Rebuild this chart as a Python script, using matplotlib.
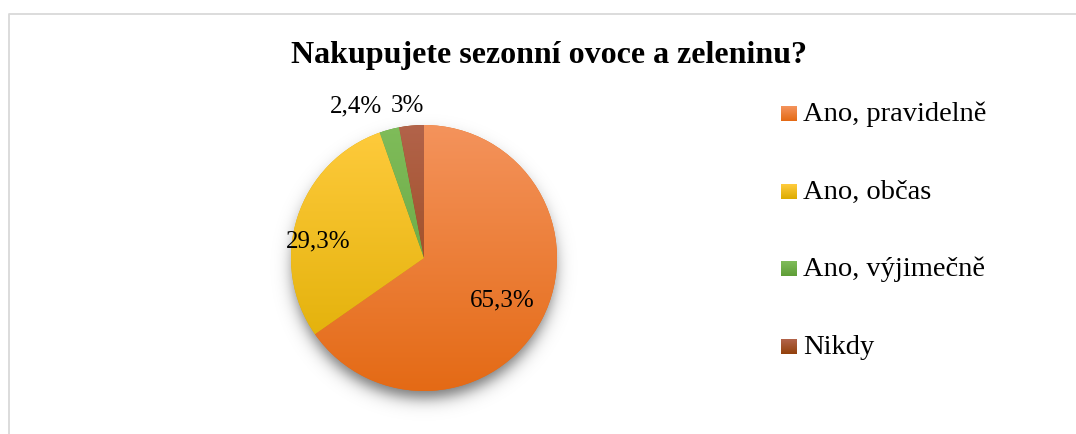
import matplotlib.pyplot as plt
import numpy as np
from matplotlib.colors import LinearSegmentedColormap

# Data
labels = ['Ano, pravidelně', 'Ano, občas', 'Ano, výjimečně', 'Nikdy']
values = [65.3, 29.3, 2.4, 3.0]
value_text = ['65,3%', '29,3%', '2,4%', '3%']
top_colors = ['#F4935C', '#FFCB3D', '#7FBC5A', '#B2634A']
bottom_colors = ['#E46A15', '#DDAC00', '#5F9E37', '#93410C']

plt.rcParams['font.family'] = ['Liberation Serif', 'DejaVu Serif']

W, H = 1076, 434
fig = plt.figure(figsize=(W / 100, H / 100), dpi=100)

# pie axes (center 424,258 radius 133 in pixels)
cx, cy, r = 424, 258, 133
ax = fig.add_axes([(cx - r) / W, (H - cy - r) / H, 2 * r / W, 2 * r / H])
ax.axis('off')

# soft shadow under the pie
n = 400
xs = np.linspace(-1.3, 1.3, n)
X, Y = np.meshgrid(xs, xs[::-1])
d = np.sqrt(X ** 2 + (Y + 0.07) ** 2) - 0.985
alpha = 0.55 / (1 + np.exp(d / 0.035))
shadow = np.zeros((n, n, 4))
shadow[..., 3] = alpha
sh = ax.imshow(shadow, extent=(-1.3, 1.3, -1.3, 1.3), zorder=0)
sh.set_clip_on(False)

wedges, _ = ax.pie(values, startangle=90, counterclock=False, radius=1,
                   colors=bottom_colors, wedgeprops=dict(lw=0))

grad = np.linspace(0, 1, 256).reshape(-1, 1)
for w, c1, c2 in zip(wedges, top_colors, bottom_colors):
    cmap = LinearSegmentedColormap.from_list('g', [c1, c2])
    im = ax.imshow(grad, cmap=cmap, extent=(-1, 1, -1, 1), origin='upper',
                   aspect='auto', zorder=2)
    im.set_clip_path(w)

ax.set_xlim(-1, 1)
ax.set_ylim(-1, 1)
ax.set_aspect('equal')

# overlay axes in pixel coordinates for frame, text and legend
frame = fig.add_axes([0, 0, 1, 1], zorder=5)
frame.patch.set_alpha(0)
frame.axis('off')
frame.plot([8.5, 8.5, W + 5], [H + 5, 13.5, 13.5], color='#D9D9D9', lw=1.3)

# data labels
label_pos = [(502, 300), (318, 241), (356, 106), (407, 106)]
for t, (x, y) in zip(value_text, label_pos):
    frame.text(x, y, t, ha='center', va='center', fontsize=18, color='black')

# title
frame.text(549, 55, 'Nakupujete sezonní ovoce a zeleninu?', ha='center',
           va='center', fontsize=23, fontweight='bold')

# legend
leg_base = [121, 199, 276, 354]
for lab, c1, c2, y in zip(labels, top_colors, bottom_colors, leg_base):
    g = np.linspace(0, 1, 32).reshape(-1, 1)
    cmap = LinearSegmentedColormap.from_list('g', [c1, c2])
    frame.imshow(g, cmap=cmap, extent=(781, 797, y, y - 15), aspect='auto')
    frame.text(803, y, lab, ha='left', va='baseline', fontsize=20.5)

frame.set_xlim(0, W)
frame.set_ylim(H, 0)

fig.savefig('out.png', dpi=100)
